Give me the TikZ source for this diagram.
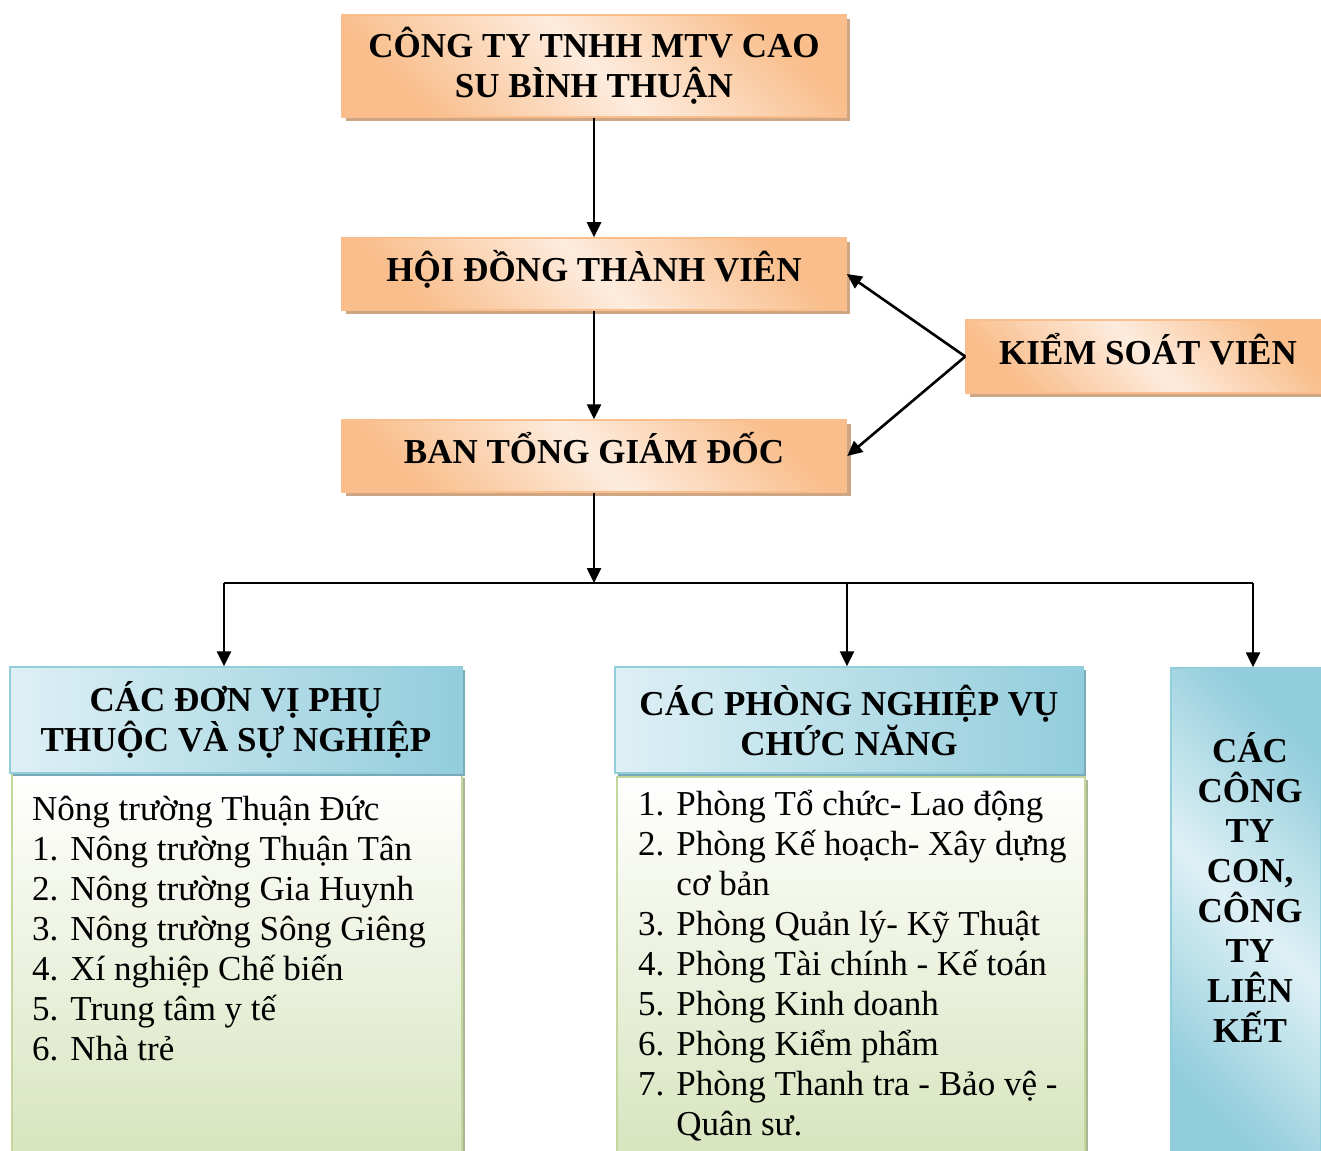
\documentclass[tikz,border=0pt]{standalone}
\usepackage{fontspec}
\setmainfont{Liberation Serif}
\usetikzlibrary{arrows.meta, shadows}

\definecolor{peach}{RGB}{249,190,140}
\definecolor{peachlight}{RGB}{253,236,222}
\definecolor{tanshadow}{RGB}{206,166,132}
\definecolor{bluedark}{RGB}{146,205,220}
\definecolor{bluelight}{RGB}{222,240,245}
\definecolor{blueshadow}{RGB}{120,170,185}
\definecolor{greendark}{RGB}{215,228,189}
\definecolor{greenborder}{RGB}{195,214,155}
\definecolor{greenshadow}{RGB}{170,182,150}

\newcommand{\headfont}{\fontsize{35}{40}\selectfont\bfseries}
\newcommand{\listfont}{\fontsize{35}{40}\selectfont}

\begin{document}
\begin{tikzpicture}[x=1pt, y=-1pt,
    orangebox/.style={draw=peach, line width=1.5pt, top color=peach, bottom color=peach,
        middle color=peachlight, shading angle=-45, font=\headfont, align=center, inner sep=0pt,
        drop shadow={shadow xshift=4pt, shadow yshift=-4pt, opacity=1, fill=tanshadow}},
    oneline/.style={text height=23pt, text depth=8pt},
    bluebox/.style={draw=bluedark, line width=1.5pt, left color=bluelight, right color=bluedark,
        font=\headfont, align=center, inner sep=0pt,
        drop shadow={shadow xshift=3pt, shadow yshift=-3pt, opacity=1, fill=blueshadow}},
    greenbox/.style={draw=greenborder, line width=1.5pt, top color=white, bottom color=greendark,
        inner sep=0pt, drop shadow={shadow xshift=3pt, shadow yshift=-3pt, opacity=1, fill=greenshadow}},
    listtxt/.style={font=\listfont, inner sep=0pt, anchor=base west},
    arr/.style={line width=2.6pt, -{Triangle[width=14pt, length=15pt]}}]

    \clip (0, 0) rectangle (1321, 1150);

    % top levels
    \node[orangebox, minimum width=504, minimum height=102] (cty) at (594, 66)
        {CÔNG TY TNHH MTV CAO\\SU BÌNH THUẬN};
    \node[orangebox, oneline, minimum width=504, minimum height=72] (hdtv) at (594, 274)
        {HỘI ĐỒNG THÀNH VIÊN};
    \node[orangebox, oneline, minimum width=505, minimum height=72] (btgd) at (594, 456)
        {BAN TỔNG GIÁM ĐỐC};
    \node[orangebox, oneline, minimum width=359, minimum height=73] (ksv) at (1145.5, 356.5)
        {\hspace{5pt}KIỂM SOÁT VIÊN};

    % don vi phu thuoc
    \node[greenbox, minimum width=450, minimum height=385] (dvbody) at (237, 967.5) {};
    \node[bluebox, minimum width=452, minimum height=106] (donvi) at (236, 720)
        {CÁC ĐƠN VỊ PHỤ\\THUỘC VÀ SỰ NGHIỆP};
    \node[listtxt] (dvlist) at (32, 820) {\begin{tabular}[t]{@{}l@{\hspace{12pt}}l@{}}
        \multicolumn{2}{@{}l}{Nông trường Thuận Đức}\\
        1. & Nông trường Thuận Tân\\
        2. & Nông trường Gia Huynh\\
        3. & Nông trường Sông Giêng\\
        4. & Xí nghiệp Chế biến\\
        5. & Trung tâm y tế\\
        6. & Nhà trẻ
    \end{tabular}};

    % phong nghiep vu
    \node[greenbox, minimum width=468, minimum height=383] (pbody) at (851, 968.5) {};
    \node[bluebox, minimum width=468, minimum height=106] (phong) at (849, 720)
        {CÁC PHÒNG NGHIỆP VỤ\\CHỨC NĂNG};
    \node[listtxt] (plist) at (638, 815) {\begin{tabular}[t]{@{}l@{\hspace{12pt}}l@{}}
        1. & Phòng Tổ chức- Lao động\\
        2. & Phòng Kế hoạch- Xây dựng\\
           & cơ bản\\
        3. & Phòng Quản lý- Kỹ Thuật\\
        4. & Phòng Tài chính - Kế toán\\
        5. & Phòng Kinh doanh\\
        6. & Phòng Kiểm phẩm\\
        7. & Phòng Thanh tra - Bảo vệ -\\
           & Quân sư.
    \end{tabular}};

    % cong ty con
    \node[bluebox, top color=bluedark, bottom color=bluedark, middle color=bluelight,
        shading angle=-45, minimum width=150, minimum height=492] (lienket) at (1246, 914) {};
    \node[font=\headfont, align=center, inner sep=0pt] (lktxt) at (1250, 887)
        {CÁC\\CÔNG\\TY\\CON,\\CÔNG\\TY\\LIÊN\\KẾT};

    % connectors
    \draw[arr] (cty) -- (hdtv);
    \draw[arr] (hdtv) -- (btgd);
    \draw[arr] (ksv.west) -- (hdtv.east);
    \draw[arr] (ksv.west) -- (btgd.east);

    \coordinate (split) at (594, 583);
    \coordinate (jl) at (224, 583);
    \coordinate (jm) at (847, 583);
    \coordinate (jr) at (1253, 583);
    \draw[arr] (btgd) -- (split);
    \draw[line width=2.4pt] (jl) -- (jr);
    \draw[arr] (jl) -- (jl |- donvi.north);
    \draw[arr] (jm) -- (jm |- phong.north);
    \draw[arr] (jr) -- (jr |- lienket.north);
\end{tikzpicture}
\end{document}
